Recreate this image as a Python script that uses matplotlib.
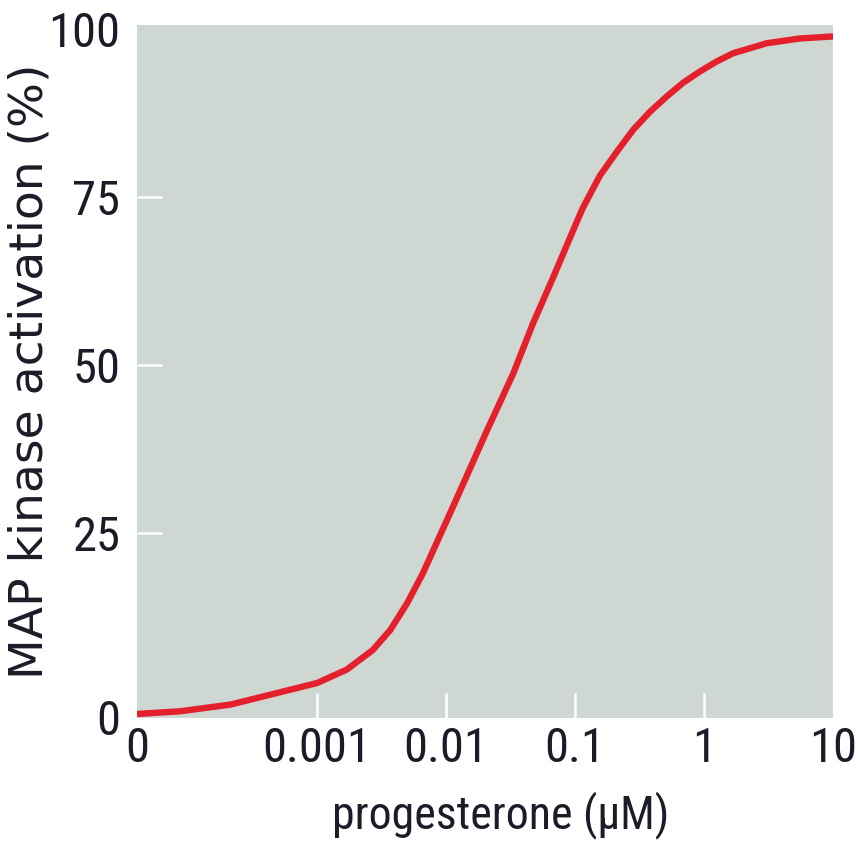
import matplotlib
matplotlib.use("Agg")
import matplotlib.pyplot as plt
import matplotlib.transforms as mtransforms
from matplotlib import font_manager

# progesterone dose (uM) vs MAP kinase activation (%)
dose = [0, 0.00024, 0.00052, 0.00079, 0.001, 0.0017, 0.0027, 0.0037, 0.005,
        0.0066, 0.0079, 0.0113, 0.0208, 0.0331, 0.0472, 0.0675, 0.0964,
        0.115, 0.156, 0.212, 0.282, 0.381, 0.516, 0.687, 0.931, 1.26, 1.68,
        3.08, 5.55, 10]
activation = [-1.9, -1.5, -0.5, 1.3, 2.7, 4.7, 7.6, 10.6, 14.6,
              19.0, 22.3, 28.9, 40.3, 48.7, 56.2, 63.0, 70.0,
              73.4, 78.2, 81.8, 85.0, 87.7, 90.0, 92.0, 93.7, 95.2, 96.4,
              97.9, 98.6, 98.9]

x_ticks = [0, 0.001, 0.01, 0.1, 1, 10]
x_labels = ["0", "0.001", "0.01", "0.1", "1", "10"]
y_ticks = [0, 25, 50, 75, 100]
y_labels = ["0", "25", "50", "75", "100"]

bg = "#cfd7d3"
red = "#e3202b"
ink = "#1c1c28"

# pick a narrow face if one is installed
names = {f.name for f in font_manager.fontManager.ttflist}
narrow = None
for cand in ["Roboto Condensed", "Liberation Sans Narrow", "Open Sans Condensed"]:
    if cand in names:
        narrow = cand
        break
if narrow:
    tick_font = dict(family=[narrow, "DejaVu Sans"], size=35)
else:
    tick_font = dict(family=["Liberation Sans", "DejaVu Sans"], size=31)

fig = plt.figure(figsize=(8.58, 8.57), dpi=100)
ax = fig.add_axes([0.1597, 0.1622, 0.9709 - 0.1597, 0.9708 - 0.1622])
ax.set_facecolor(bg)

ax.plot(dose, activation, color=red, linewidth=4.6, solid_capstyle="butt",
        solid_joinstyle="round", zorder=3)

ax.set_xscale("symlog", linthresh=0.001, linscale=1.256)
ax.set_xlim(0, 10)
ax.set_ylim(-2.5, 100.6)

ax.set_xticks(x_ticks)
ax.set_xticklabels(x_labels)
ax.set_yticks(y_ticks)
ax.set_yticklabels(y_labels)
ax.xaxis.set_minor_locator(matplotlib.ticker.NullLocator())

for s in ax.spines.values():
    s.set_visible(False)

ax.tick_params(axis="both", direction="in", length=18, width=1.8, color="white",
               labelcolor=ink)
ax.tick_params(axis="x", pad=6)
ax.tick_params(axis="y", pad=12)
for lab in ax.get_xticklabels() + ax.get_yticklabels():
    lab.set(**tick_font)

# no white marks at the ends of the axes, only the labels
xt = ax.xaxis.get_major_ticks()
yt = ax.yaxis.get_major_ticks()
for t in (xt[0], xt[-1], yt[0], yt[-1]):
    t.tick1line.set_visible(False)

# the "0" on the y axis sits at the bottom edge in the original
y0 = ax.get_yticklabels()[0]
y0.set_transform(y0.get_transform() + mtransforms.ScaledTranslation(0, -16 / 100, fig.dpi_scale_trans))

ax.set_xlabel("progesterone (µM)", color=ink, **dict(tick_font, size=33))
ax.xaxis.set_label_coords(0.522, -0.105)
ax.set_ylabel("MAP kinase activation (%)", fontsize=34, color=ink, family=["DejaVu Sans"])
ax.yaxis.set_label_coords(-0.122, 0.5)

fig.savefig("out.png", dpi=100, facecolor="white")
